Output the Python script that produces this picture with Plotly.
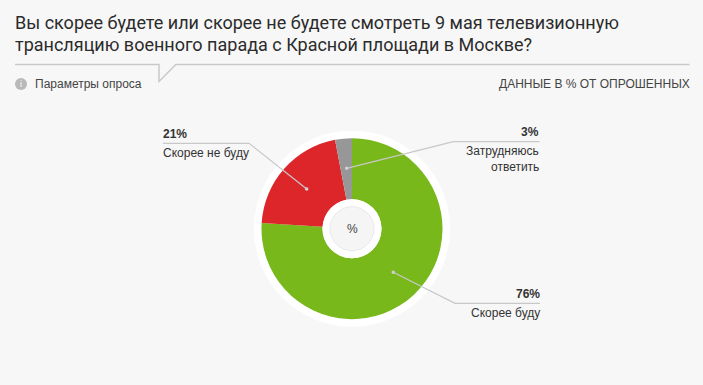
import plotly.graph_objects as go

W, H = 703, 385
BG = "#f7f7f7"

categories = ["Скорее буду", "Скорее не буду", "Затрудняюсь<br>ответить"]
values = [76, 21, 3]
colors = ["#78b81a", "#dc2629", "#979797"]
title_lines = [
    "Вы скорее будете или скорее не будете смотреть 9 мая телевизионную",
    "трансляцию военного парада с Красной площади в Москве?",
]
CX, CY, R = 352, 228.7, 90.5
HOLE_R, INNER_R, RING_R = 29.5, 22, 98

TITLE_FONT = "Roboto"
TEXT_FONT = "Liberation Sans"
PAD = 2


def px(x):
    return x / W


def py(y):
    return 1 - y / H


def text(x, y, s, size=12, color="#333333", anchor="left", family=TEXT_FONT):
    shift = {"left": -PAD, "right": PAD, "center": 0}[anchor]
    return dict(
        x=px(x + shift), y=py(y), xref="paper", yref="paper", text=s, showarrow=False,
        xanchor=anchor, yanchor="middle", align=anchor,
        font=dict(family=family, size=size, color=color),
    )


def circle(r, fill, line="rgba(0,0,0,0)", cx=CX, cy=CY, layer="below"):
    return dict(
        type="circle", xref="paper", yref="paper", layer=layer,
        x0=px(cx - r), x1=px(cx + r), y0=py(cy + r), y1=py(cy - r),
        fillcolor=fill, line=dict(color=line, width=1),
    )


def polyline(points, color="#c8c8c8", width=1.2):
    path = "M " + " L ".join(f"{px(x):.5f} {py(y):.5f}" for x, y in points)
    return dict(type="path", xref="paper", yref="paper", layer="above", path=path,
                line=dict(color=color, width=width))


fig = go.Figure(go.Pie(
    labels=categories, values=values, sort=False, direction="clockwise", rotation=0,
    hole=HOLE_R / R, marker=dict(colors=colors, line=dict(width=0)),
    textinfo="none", hoverinfo="skip", showlegend=False,
    domain=dict(x=[px(CX - R), px(CX + R)], y=[py(CY + R), py(CY - R)]),
))

leaders = [
    [(393.3, 272.3), (455, 303.3), (540, 303.3)],
    [(306.7, 189), (249, 143.3), (163, 143.3)],
    [(346.7, 168.3), (453.3, 141.7), (539.5, 141.7)],
]
shapes = [
    circle(RING_R, "#ffffff"),
    circle(HOLE_R, "#ffffff", layer="above"),
    circle(INNER_R, "#f5f5f5", line="#e9e9e9", layer="above"),
    polyline([(15, 64.5), (159, 64.5), (159, 81.5), (175.8, 64.5), (689.5, 64.5)], "#c9c9c9", 1.5),
    circle(6, "#b9b9b9", cx=21, cy=84, layer="above"),
]
for pts in leaders:
    shapes.append(polyline(pts))
    shapes.append(circle(1.8, "#d0d0d0", cx=pts[0][0], cy=pts[0][1], layer="above"))

annotations = [
    text(15, 22, title_lines[0], size=18, color="#2b2b2b", family=TITLE_FONT),
    text(15, 44, title_lines[1], size=18, color="#2b2b2b", family=TITLE_FONT),
    text(35, 84, "Параметры опроса", size=12, color="#444444"),
    text(21, 84, "i", size=9, color="#ffffff", anchor="center"),
    text(689.5, 84, "ДАННЫЕ В % ОТ ОПРОШЕННЫХ", size=12, color="#444444", anchor="right"),
    text(CX, 228.5, "%", size=12, color="#444444", anchor="center"),
    text(539.5, 293.5, f"<b>{values[0]}%</b>", anchor="right"),
    text(539.5, 313, categories[0], anchor="right"),
    text(163, 134, f"<b>{values[1]}%</b>"),
    text(163, 153, categories[1]),
    text(539, 132, f"<b>{values[2]}%</b>", anchor="right"),
    text(539, 151, "Затрудняюсь", anchor="right"),
    text(539, 167, "ответить", anchor="right"),
]

fig.update_layout(
    width=W, height=H, margin=dict(l=0, r=0, t=0, b=0),
    paper_bgcolor=BG, plot_bgcolor=BG,
    shapes=shapes, annotations=annotations,
)
fig.write_html(
    "out.html",
    config={"displayModeBar": False},
    post_script="document.body.style.margin='0';document.body.style.overflow='hidden';",
)
